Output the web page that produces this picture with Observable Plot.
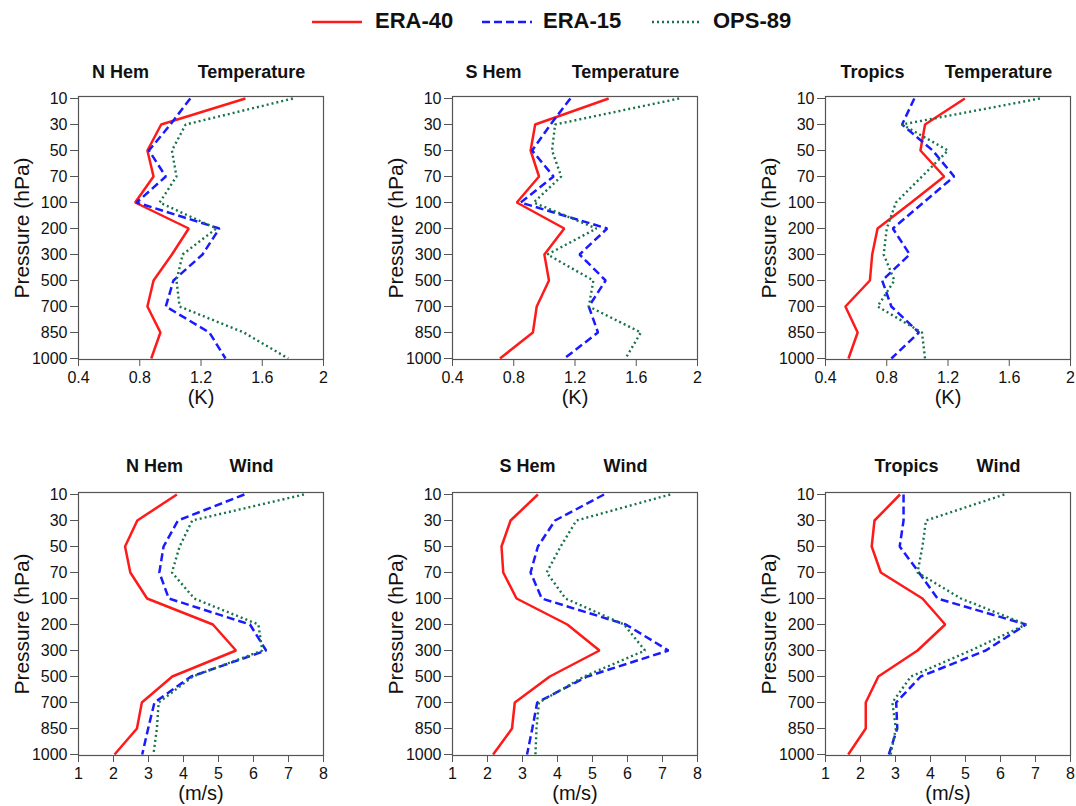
<!DOCTYPE html>
<html><head><meta charset="utf-8">
<script src="https://cdn.jsdelivr.net/npm/d3@7"></script>
<script src="https://cdn.jsdelivr.net/npm/@observablehq/plot@0.6"></script>
<style>
body{margin:0;background:#fff;font-family:"Liberation Sans",Arial,sans-serif;}
#wrap{position:relative;width:1076px;height:806px;overflow:hidden;}
.panel{position:absolute;}
.leg{position:absolute;top:8px;font-weight:bold;font-size:22px;color:#111;}
.legline{position:absolute;top:10px;}
</style></head>
<body><div id="wrap"></div>
<script>
const levels = [10,30,50,70,100,200,300,500,700,850,1000];
const seriesNames = ["ERA-40","ERA-15","OPS-89"];
const seriesColors = ["#ff1a1a","#1a1aff","#17744a"];

// Temperature (K)
const tNH_era40 = [1.49,0.94,0.85,0.89,0.77,1.12,1.01,0.89,0.85,0.935,0.875];
const tNH_era15 = [1.13,1.00,0.86,0.97,0.78,1.32,1.21,1.02,0.97,1.255,1.36];
const tNH_ops89 = [1.80,1.10,1.01,1.04,0.93,1.30,1.08,1.04,1.06,1.48,1.77];
const tSH_era40 = [1.42,0.94,0.91,0.965,0.82,1.13,1.00,1.03,0.95,0.925,0.71];
const tSH_era15 = [1.17,1.04,0.92,1.06,0.845,1.41,1.23,1.40,1.29,1.35,1.13];
const tSH_ops89 = [1.88,1.07,1.05,1.11,0.93,1.34,1.02,1.32,1.29,1.63,1.53];
const tTR_era40 = [1.31,1.05,1.02,1.175,0.96,0.74,0.705,0.69,0.53,0.61,0.55];
const tTR_era15 = [0.98,0.90,1.10,1.24,1.04,0.84,0.95,0.77,0.83,1.01,0.83];
const tTR_ops89 = [1.80,0.90,1.20,1.03,0.86,0.80,0.78,0.85,0.74,1.03,1.05];
// Wind (m/s)
const wNH_era40 = [3.81,2.68,2.33,2.48,2.96,4.84,5.50,3.68,2.81,2.67,2.03];
const wNH_era15 = [5.74,3.84,3.43,3.31,3.58,5.90,6.36,4.22,3.17,2.99,2.82];
const wNH_ops89 = [7.44,4.25,3.89,3.67,4.31,6.14,6.25,4.27,3.29,3.24,3.14];
const wSH_era40 = [3.44,2.66,2.40,2.45,2.83,4.28,5.20,3.78,2.78,2.70,2.16];
const wSH_era15 = [5.33,3.93,3.44,3.23,3.55,5.95,7.17,4.85,3.42,3.28,3.13];
const wSH_ops89 = [7.22,4.54,4.09,3.69,4.23,5.90,6.50,4.76,3.47,3.40,3.37];
const wTR_era40 = [3.13,2.40,2.32,2.58,3.77,4.42,3.63,2.51,2.15,2.15,1.65];
const wTR_era15 = [3.23,3.23,3.12,3.67,4.20,6.73,5.58,3.72,3.02,3.05,2.81];
const wTR_ops89 = [6.11,3.87,3.77,3.63,4.87,6.73,5.15,3.44,2.91,3.01,2.86];

const tTicks = [0.4,0.8,1.2,1.6,2];
const wTicks = [1,2,3,4,5,6,7,8];

const dashes = [null, "8,4", "2,3"];

const panels = [
  {region:"N Hem", var:"Temperature", unit:"(K)", s:[tNH_era40,tNH_era15,tNH_ops89], dom:[0.4,2], ticks:tTicks, fx:78, fy:96, rdx:42, tdy:-24},
  {region:"S Hem", var:"Temperature", unit:"(K)", s:[tSH_era40,tSH_era15,tSH_ops89], dom:[0.4,2], ticks:tTicks, fx:452, fy:96, rdx:41, tdy:-24},
  {region:"Tropics", var:"Temperature", unit:"(K)", s:[tTR_era40,tTR_era15,tTR_ops89], dom:[0.4,2], ticks:tTicks, fx:825, fy:96, rdx:47, tdy:-24},
  {region:"N Hem", var:"Wind", unit:"(m/s)", s:[wNH_era40,wNH_era15,wNH_ops89], dom:[1,8], ticks:wTicks, fx:78, fy:492, rdx:76, tdy:-26},
  {region:"S Hem", var:"Wind", unit:"(m/s)", s:[wSH_era40,wSH_era15,wSH_ops89], dom:[1,8], ticks:wTicks, fx:452, fy:492, rdx:75, tdy:-26},
  {region:"Tropics", var:"Wind", unit:"(m/s)", s:[wTR_era40,wTR_era15,wTR_ops89], dom:[1,8], ticks:wTicks, fx:825, fy:492, rdx:81, tdy:-26}
];

const wrap = document.getElementById("wrap");
const ML = 75, MR = 6, MT = 40, MB = 52, FW = 245, FH = 263;

panels.forEach(p => {
  const marks = [];
  p.s.forEach((vals, i) => {
    const data = levels.map((lev, k) => ({p: lev, v: vals[k]}));
    marks.push(Plot.line(data, {x: "v", y: "p", stroke: seriesColors[i], strokeWidth: i === 2 ? 2.4 : 2.5,
      strokeDasharray: dashes[i] || undefined, strokeLinejoin: "miter", strokeLinecap: "butt"}));
  });
  marks.push(Plot.frame({stroke: "#555", strokeWidth: 1.2}));
  marks.push(Plot.axisX({ticks: p.ticks, tickFormat: d => String(d), tickSize: 7, tickPadding: 5, fontSize: 16, stroke: "#555", label: null}));
  marks.push(Plot.axisY({ticks: levels, tickFormat: d => String(d), tickSize: 8, tickPadding: 3, fontSize: 16, stroke: "#555", label: null}));
  marks.push(Plot.text([p.unit], {frameAnchor: "bottom", lineAnchor: "middle", textAnchor: "middle", dy: 38, fontSize: 20, fill: "#111"}));
  marks.push(Plot.text(["Pressure (hPa)"], {frameAnchor: "left", lineAnchor: "middle", textAnchor: "middle", dx: -56, rotate: -90, fontSize: 21, fill: "#111"}));
  marks.push(Plot.text([p.region], {frameAnchor: "top-left", lineAnchor: "middle", textAnchor: "middle", dx: p.rdx, dy: p.tdy, fontSize: 18, fontWeight: "bold", fill: "#111"}));
  marks.push(Plot.text([p.var], {frameAnchor: "top-left", lineAnchor: "middle", textAnchor: "middle", dx: 173, dy: p.tdy, fontSize: 18, fontWeight: "bold", fill: "#111"}));
  const chart = Plot.plot({
    width: ML + FW + MR, height: MT + FH + MB,
    marginLeft: ML, marginRight: MR, marginTop: MT, marginBottom: MB,
    style: {fontFamily: "'Liberation Sans', Arial, sans-serif", color: "#111", background: "transparent"},
    x: {domain: p.dom, label: null},
    y: {type: "point", domain: levels, padding: 0, label: null},
    marks
  });
  const d = document.createElement("div");
  d.className = "panel";
  d.style.left = (p.fx - ML) + "px";
  d.style.top = (p.fy - MT) + "px";
  d.appendChild(chart);
  wrap.appendChild(d);
});

// legend
const legX = [[312, 375], [482, 543], [652, 713]];
seriesNames.forEach((name, i) => {
  const svgNS = "http://www.w3.org/2000/svg";
  const s = document.createElementNS(svgNS, "svg");
  s.setAttribute("width", 50); s.setAttribute("height", 24);
  s.setAttribute("class", "legline");
  s.style.left = legX[i][0] + "px";
  const l = document.createElementNS(svgNS, "line");
  l.setAttribute("x1", 0); l.setAttribute("x2", 50); l.setAttribute("y1", 12); l.setAttribute("y2", 12);
  l.setAttribute("stroke", seriesColors[i]); l.setAttribute("stroke-width", 2.5);
  if (dashes[i]) l.setAttribute("stroke-dasharray", dashes[i]);
  s.appendChild(l);
  wrap.appendChild(s);
  const t = document.createElement("div");
  t.className = "leg";
  t.style.left = legX[i][1] + "px";
  t.textContent = name;
  wrap.appendChild(t);
});
</script>
</body></html>
